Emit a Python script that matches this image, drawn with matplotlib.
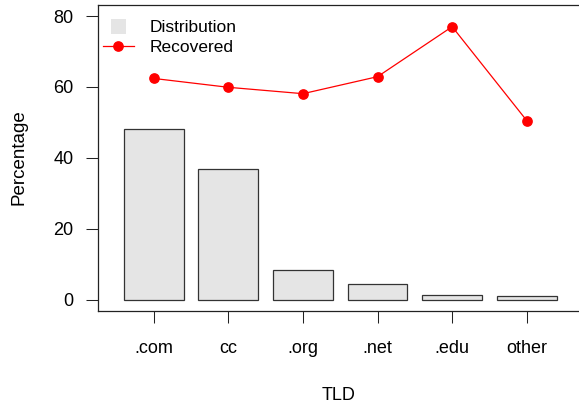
import matplotlib
matplotlib.use("Agg")
import matplotlib.pyplot as plt
from matplotlib.lines import Line2D
import numpy as np

categories = [".com", "cc", ".org", ".net", ".edu", "other"]
distribution = [48.0, 36.9, 8.3, 4.4, 1.4, 1.1]
recovered = [62.4, 59.9, 58.1, 62.9, 77.0, 50.5]
yticks = [0, 20, 40, 60, 80]

plt.rcParams['font.family'] = ['Liberation Sans', 'DejaVu Sans']
FS = 12.5
TFS = 13
plt.rcParams['font.size'] = FS

W, H = 579, 405
fig = plt.figure(figsize=(W / 100, H / 100), dpi=100)
left, right, top, bottom = 98.3, 579, 4.7, 311
ax = fig.add_axes([left / W, 1 - bottom / H, (right - left) / W, (bottom - top) / H])

x = np.arange(len(categories))
ax.bar(x, distribution, width=0.8, color='#e5e5e5', edgecolor='#333333', linewidth=0.9, zorder=2)
ax.plot(x, recovered, color='red', linewidth=0.9, marker='o', markersize=6.7, zorder=3)

ax.set_xlim(-0.743, 5.70)
ax.set_ylim(-3.2, 83.2)
ax.set_xticks(x)
ax.set_xticklabels(categories)
ax.set_yticks(yticks)
ax.set_yticklabels([str(v) for v in yticks])
ax.tick_params(axis='both', direction='out', length=8.4, width=0.75, color='#222222', labelsize=TFS)
ax.tick_params(axis='y', pad=9.5)
ax.tick_params(axis='x', pad=12.5)
for s in ['left', 'top', 'bottom']:
    ax.spines[s].set_linewidth(0.9)
    ax.spines[s].set_color('#222222')
ax.spines['right'].set_visible(False)

ax.set_xlabel("TLD", fontsize=TFS)
ax.set_ylabel("Percentage", fontsize=13.5)
ax.xaxis.set_label_coords((339 - left) / (right - left), -(386.5 - bottom) / (bottom - top))
ax.yaxis.set_label_coords(-(left - 27.5) / (right - left), 0.503)

handles = [
    Line2D([], [], linestyle='none', marker='s', markersize=10.8, color='#e5e5e5', markeredgewidth=0),
    Line2D([], [], color='red', linewidth=0.9, marker='o', markersize=6.7),
]
leg = ax.legend(handles, ["Distribution", "Recovered"], loc='upper left',
                bbox_to_anchor=(0.0, 0.965), frameon=False, fontsize=FS,
                handlelength=1.82, handletextpad=0.9, labelspacing=0.27,
                borderpad=0.25, borderaxespad=0.0)

fig.savefig("out.png", dpi=100)
